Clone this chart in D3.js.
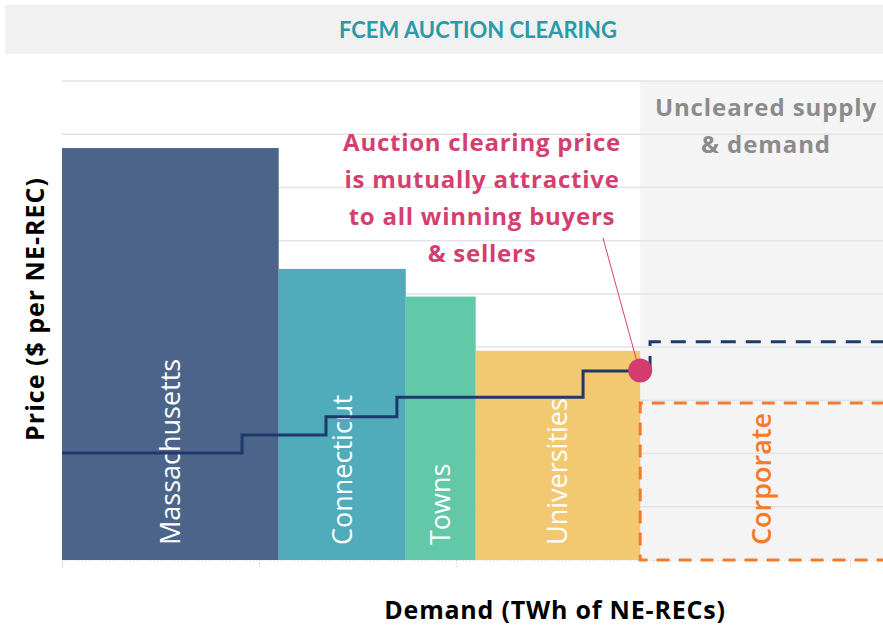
<!DOCTYPE html>
<html>
<head>
<meta charset="utf-8">
<script src="https://cdn.jsdelivr.net/npm/d3@7"></script>
<style>
  body { margin: 0; background: #fff; }
  svg { display: block; font-family: "Open Sans", Lato, sans-serif; }
</style>
</head>
<body>
<div id="chart"></div>
<script>
// Demand segments (cleared buyers)
const segments = ["Massachusetts", "Connecticut", "Towns", "Universities"];
const segmentEnd = [1.1, 1.745, 2.1, 2.935];   // cumulative TWh
const segmentPrice = [7.74, 5.47, 4.95, 3.93];

// Uncleared corporate demand
const corporateStart = 2.935;
const corporateEnd = 4.4;
const corporatePrice = 2.95;

// Supply stack (cleared part, step after)
const supplyQty = [0, 0.914, 1.34, 1.70, 2.645, 2.985];
const supplyPrice = [2.01, 2.35, 2.69, 3.06, 3.55, 3.55];

// Uncleared supply continuation
const supplyDashQty = [2.985, 2.985, 4.4];
const supplyDashPrice = [3.55, 4.10, 4.10];

// Clearing point
const clearQty = 2.935;
const clearPrice = 3.56;

const yTicks = d3.range(0, 10);
const xTicks = [0, 1, 2, 3, 4];

const annotation = ["Auction clearing price", "is mutually attractive", "to all winning buyers", "& sellers"];
const unclearedText = ["Uncleared supply", "& demand"];

const W = 883, H = 627;
const margin = {top: 81, right: 0, bottom: 67, left: 62};

const svg = d3.select("#chart").append("svg")
    .attr("width", W)
    .attr("height", H);

// Title banner
svg.append("rect")
    .attr("x", 5).attr("y", 5)
    .attr("width", W - 5).attr("height", 49)
    .attr("fill", "#f1f1f1");

svg.append("text")
    .attr("x", 478).attr("y", 30)
    .attr("dy", "0.35em")
    .attr("text-anchor", "middle")
    .style("font-family", "Lato, sans-serif")
    .style("font-size", "22px")
    .style("font-weight", "bold")
    .style("fill", "#2b9aa8")
    .text("FCEM AUCTION CLEARING");

const x = d3.scaleLinear()
    .domain([0, 4.1675])
    .range([margin.left, W - margin.right]);

const y = d3.scaleLinear()
    .domain([0, 9])
    .range([H - margin.bottom, margin.top]);

// Uncleared area shading
svg.append("rect")
    .attr("x", x(corporateStart))
    .attr("y", y(9))
    .attr("width", x.range()[1] - x(corporateStart))
    .attr("height", y(0) - y(9))
    .attr("fill", "#f4f4f4");

// Grid lines
svg.append("g")
    .selectAll("line")
    .data(yTicks.filter(d => d > 0))
    .enter()
    .append("line")
    .attr("x1", x(0))
    .attr("x2", W)
    .attr("y1", d => y(d))
    .attr("y2", d => y(d))
    .attr("stroke", "#e1e4e8")
    .attr("stroke-width", 1.5);

// Demand bars
const color = d3.scaleOrdinal()
    .domain(segments)
    .range(["#465f85", "#4aa8b8", "#5dc6a5", "#f2c76b"]);

const bars = segments.map((s, i) => ({
    name: s,
    start: i === 0 ? 0 : segmentEnd[i - 1],
    end: segmentEnd[i],
    price: segmentPrice[i]
}));

svg.append("g")
    .selectAll("rect")
    .data(bars)
    .enter()
    .append("rect")
    .attr("x", d => x(d.start))
    .attr("y", d => y(d.price))
    .attr("width", d => x(d.end) - x(d.start))
    .attr("height", d => y(0) - y(d.price))
    .attr("fill", d => color(d.name))
    .attr("fill-opacity", 0.97);

// Bottom axis (dotted baseline with small ticks)
const xAxis = svg.append("g")
    .attr("transform", `translate(0,${y(0)})`)
    .call(d3.axisBottom(x).tickValues(xTicks).tickSize(8).tickFormat(""));
xAxis.select(".domain")
    .attr("stroke", "#d9d9d9")
    .attr("stroke-dasharray", "1,2");
xAxis.selectAll(".tick line")
    .attr("stroke", "#cfcfcf")
    .attr("stroke-dasharray", "1,2");

// Corporate dashed box
const corp = d3.path();
corp.moveTo(x(corporateEnd), y(corporatePrice));
corp.lineTo(x(corporateStart), y(corporatePrice));
corp.lineTo(x(corporateStart), y(0));
corp.lineTo(x(corporateEnd), y(0));
svg.append("path")
    .attr("d", corp.toString())
    .attr("fill", "none")
    .attr("stroke", "#f47b2a")
    .attr("stroke-width", 3)
    .attr("stroke-dasharray", "13,9");

// Bar labels
const labels = bars.concat([{name: "Corporate", start: corporateStart, end: 4.1675}]);
svg.append("g")
    .selectAll("text")
    .data(labels)
    .enter()
    .append("text")
    .attr("transform", d => `translate(${(x(d.start) + x(d.end)) / 2},${y(0) - 15}) rotate(-90)`)
    .attr("dy", "0.35em")
    .style("font-size", "27px")
    .style("font-weight", d => d.name === "Corporate" ? 600 : 400)
    .style("fill", d => d.name === "Corporate" ? "#f47b2a" : "#ffffff")
    .text(d => d.name);

// Supply step line
const supplyLine = d3.line()
    .x(d => x(d[0]))
    .y(d => y(d[1]))
    .curve(d3.curveStepAfter);

svg.append("path")
    .datum(supplyQty.map((q, i) => [q, supplyPrice[i]]))
    .attr("d", supplyLine)
    .attr("fill", "none")
    .attr("stroke", "#1e3a6c")
    .attr("stroke-width", 3);

svg.append("path")
    .datum(supplyDashQty.map((q, i) => [q, supplyDashPrice[i]]))
    .attr("d", d3.line().x(d => x(d[0])).y(d => y(d[1])))
    .attr("fill", "none")
    .attr("stroke", "#1e3a6c")
    .attr("stroke-width", 3)
    .attr("stroke-dasharray", "15,10");

// Uncleared text
svg.append("g")
    .selectAll("text")
    .data(unclearedText)
    .enter()
    .append("text")
    .attr("x", 766)
    .attr("y", (d, i) => 108 + i * 37)
    .attr("dy", "0.35em")
    .attr("text-anchor", "middle")
    .style("font-size", "24px")
    .style("letter-spacing", "0.9px")
    .style("font-weight", "bold")
    .style("fill", "#8b8b8b")
    .text(d => d);

// Annotation
svg.append("line")
    .attr("x1", 603).attr("y1", 238)
    .attr("x2", x(clearQty) - 3).attr("y2", y(clearPrice) - 8)
    .attr("stroke", "#d6416f")
    .attr("stroke-width", 1);

svg.append("g")
    .selectAll("text")
    .data(annotation)
    .enter()
    .append("text")
    .attr("x", 482)
    .attr("y", (d, i) => 143 + i * 37)
    .attr("dy", "0.35em")
    .attr("text-anchor", "middle")
    .style("font-size", "24px")
    .style("letter-spacing", "0.75px")
    .style("font-weight", "bold")
    .style("fill", "#d43f6f")
    .text(d => d);

// Clearing point
svg.append("circle")
    .attr("cx", x(clearQty))
    .attr("cy", y(clearPrice))
    .attr("r", 12)
    .attr("fill", "#d23c6e");

// Axis titles
svg.append("text")
    .attr("transform", `translate(35,309) rotate(-90)`)
    .attr("text-anchor", "middle")
    .attr("dy", "0.35em")
    .style("font-size", "25px")
    .style("letter-spacing", "1px")
    .style("font-weight", "bold")
    .style("fill", "#000")
    .text("Price ($ per NE-REC)");

svg.append("text")
    .attr("x", 555)
    .attr("y", 610)
    .attr("dy", "0.35em")
    .attr("text-anchor", "middle")
    .style("font-size", "25px")
    .style("letter-spacing", "0.8px")
    .style("font-weight", "bold")
    .style("fill", "#000")
    .text("Demand (TWh of NE-RECs)");
</script>
</body>
</html>
